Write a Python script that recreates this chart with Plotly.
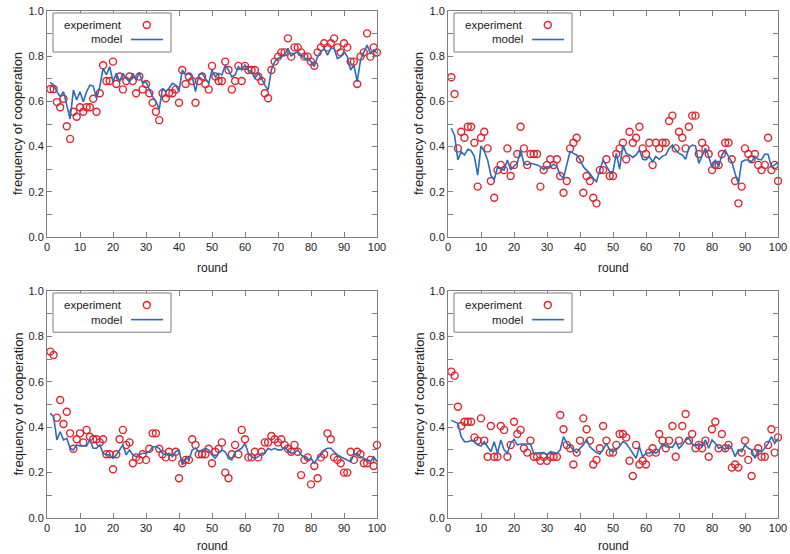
import plotly.graph_objects as go

rounds = list(range(1, 101))

tl_experiment = [0.655, 0.655, 0.597, 0.574, 0.612, 0.49, 0.434, 0.554, 0.532, 0.574,
                 0.554, 0.574, 0.574, 0.612, 0.554, 0.636, 0.76, 0.69, 0.69, 0.776,
                 0.677, 0.71, 0.653, 0.69, 0.71, 0.69, 0.636, 0.71, 0.653, 0.677,
                 0.636, 0.594, 0.554, 0.517, 0.636, 0.614, 0.636, 0.636, 0.653, 0.594,
                 0.739, 0.677, 0.71, 0.69, 0.594, 0.69, 0.71, 0.677, 0.653, 0.757,
                 0.71, 0.69, 0.69, 0.776, 0.739, 0.653, 0.69, 0.757, 0.69, 0.757,
                 0.739, 0.739, 0.739, 0.71, 0.69, 0.636, 0.614, 0.739, 0.776, 0.798,
                 0.817, 0.817, 0.879, 0.798, 0.839, 0.839, 0.817, 0.798, 0.798, 0.776,
                 0.758, 0.817, 0.839, 0.857, 0.839, 0.857, 0.879, 0.839, 0.817, 0.857,
                 0.839, 0.776, 0.776, 0.677, 0.798, 0.817, 0.901, 0.798, 0.839, 0.817]
tl_model = [0.684, 0.672, 0.643, 0.621, 0.643, 0.577, 0.522, 0.65, 0.606, 0.643,
            0.599, 0.643, 0.672, 0.668, 0.614, 0.665, 0.746, 0.717, 0.754, 0.687,
            0.724, 0.687, 0.724, 0.702, 0.687, 0.724, 0.695, 0.727, 0.68, 0.687,
            0.65, 0.621, 0.60, 0.565, 0.658, 0.643, 0.658, 0.68, 0.672, 0.643,
            0.739, 0.717, 0.724, 0.709, 0.643, 0.717, 0.724, 0.702, 0.68, 0.739,
            0.709, 0.724, 0.717, 0.761, 0.739, 0.709, 0.717, 0.754, 0.739, 0.761,
            0.739, 0.731, 0.702, 0.724, 0.702, 0.672, 0.65, 0.74, 0.776, 0.79,
            0.798, 0.805, 0.835, 0.801, 0.813, 0.82, 0.805, 0.79, 0.79, 0.776,
            0.754, 0.798, 0.82, 0.835, 0.805, 0.835, 0.835, 0.79, 0.798, 0.82,
            0.798, 0.739, 0.761, 0.687, 0.783, 0.813, 0.849, 0.813, 0.827, 0.813]

tr_experiment = [0.707, 0.633, 0.392, 0.466, 0.439, 0.488, 0.488, 0.417, 0.223, 0.439,
                 0.466, 0.392, 0.248, 0.174, 0.296, 0.319, 0.296, 0.392, 0.27, 0.319,
                 0.367, 0.488, 0.392, 0.319, 0.367, 0.367, 0.367, 0.223, 0.296, 0.319,
                 0.344, 0.319, 0.344, 0.27, 0.196, 0.248, 0.392, 0.417, 0.439, 0.344,
                 0.196, 0.27, 0.248, 0.174, 0.149, 0.296, 0.296, 0.344, 0.27, 0.27,
                 0.367, 0.392, 0.417, 0.344, 0.466, 0.417, 0.439, 0.488, 0.392, 0.367,
                 0.417, 0.319, 0.417, 0.392, 0.417, 0.417, 0.513, 0.537, 0.392, 0.466,
                 0.439, 0.392, 0.488, 0.537, 0.537, 0.367, 0.417, 0.392, 0.367, 0.296,
                 0.319, 0.319, 0.367, 0.417, 0.417, 0.344, 0.248, 0.149, 0.223, 0.392,
                 0.367, 0.344, 0.367, 0.319, 0.296, 0.319, 0.439, 0.296, 0.319, 0.248]
tr_model = [0.481, 0.449, 0.341, 0.378, 0.363, 0.388, 0.382, 0.356, 0.274, 0.403,
            0.378, 0.341, 0.274, 0.252, 0.308, 0.303, 0.296, 0.341, 0.296, 0.314,
            0.326, 0.385, 0.326, 0.319, 0.326, 0.323, 0.319, 0.311, 0.299, 0.311,
            0.308, 0.323, 0.311, 0.274, 0.26, 0.32, 0.378, 0.37, 0.363, 0.341,
            0.311, 0.296, 0.281, 0.26, 0.245, 0.296, 0.341, 0.314, 0.289, 0.289,
            0.37, 0.30, 0.407, 0.37, 0.363, 0.352, 0.363, 0.385, 0.344, 0.341,
            0.356, 0.333, 0.356, 0.344, 0.358, 0.363, 0.392, 0.407, 0.385, 0.37,
            0.363, 0.344, 0.395, 0.407, 0.403, 0.326, 0.363, 0.392, 0.356, 0.308,
            0.341, 0.311, 0.363, 0.385, 0.356, 0.333, 0.281, 0.237, 0.333, 0.341,
            0.341, 0.333, 0.356, 0.344, 0.341, 0.367, 0.365, 0.311, 0.319, 0.33]

bl_experiment = [0.733, 0.718, 0.442, 0.52, 0.414, 0.468, 0.373, 0.305, 0.347, 0.373,
                 0.333, 0.388, 0.358, 0.347, 0.347, 0.333, 0.347, 0.281, 0.281, 0.215,
                 0.281, 0.347, 0.388, 0.322, 0.333, 0.241, 0.267, 0.256, 0.281, 0.256,
                 0.305, 0.373, 0.373, 0.305, 0.281, 0.267, 0.292, 0.267, 0.292, 0.175,
                 0.241, 0.256, 0.256, 0.347, 0.322, 0.281, 0.281, 0.281, 0.305, 0.241,
                 0.292, 0.305, 0.333, 0.20, 0.175, 0.281, 0.322, 0.281, 0.388, 0.347,
                 0.267, 0.267, 0.292, 0.267, 0.292, 0.333, 0.333, 0.361, 0.347, 0.333,
                 0.347, 0.322, 0.305, 0.292, 0.322, 0.292, 0.189, 0.256, 0.267, 0.148,
                 0.229, 0.175, 0.267, 0.281, 0.373, 0.347, 0.267, 0.256, 0.241, 0.20,
                 0.20, 0.292, 0.256, 0.292, 0.281, 0.241, 0.241, 0.256, 0.229, 0.322]
bl_model = [0.461, 0.446, 0.344, 0.38, 0.344, 0.351, 0.307, 0.30, 0.322, 0.317,
            0.317, 0.317, 0.344, 0.307, 0.307, 0.322, 0.285, 0.278, 0.278, 0.263,
            0.278, 0.30, 0.322, 0.278, 0.30, 0.278, 0.27, 0.278, 0.285, 0.285,
            0.292, 0.314, 0.314, 0.307, 0.285, 0.278, 0.285, 0.27, 0.292, 0.30,
            0.233, 0.263, 0.256, 0.30, 0.307, 0.292, 0.30, 0.307, 0.30, 0.278,
            0.263, 0.285, 0.30, 0.292, 0.263, 0.256, 0.292, 0.30, 0.307, 0.329,
            0.285, 0.27, 0.263, 0.27, 0.285, 0.285, 0.307, 0.30, 0.307, 0.30,
            0.30, 0.311, 0.30, 0.285, 0.288, 0.30, 0.278, 0.27, 0.256, 0.263,
            0.241, 0.263, 0.278, 0.30, 0.307, 0.307, 0.292, 0.278, 0.27, 0.263,
            0.256, 0.248, 0.278, 0.285, 0.27, 0.263, 0.256, 0.248, 0.27, 0.248]

br_experiment = [0.645, 0.627, 0.49, 0.405, 0.424, 0.424, 0.424, 0.355, 0.341, 0.439,
                 0.341, 0.27, 0.405, 0.27, 0.27, 0.405, 0.388, 0.27, 0.322, 0.424,
                 0.37, 0.388, 0.307, 0.288, 0.341, 0.27, 0.27, 0.252, 0.27, 0.252,
                 0.27, 0.27, 0.27, 0.454, 0.391, 0.322, 0.307, 0.236, 0.288, 0.341,
                 0.439, 0.391, 0.341, 0.236, 0.256, 0.307, 0.405, 0.341, 0.288, 0.288,
                 0.322, 0.37, 0.37, 0.355, 0.252, 0.185, 0.322, 0.236, 0.252, 0.236,
                 0.288, 0.307, 0.288, 0.37, 0.341, 0.307, 0.341, 0.405, 0.27, 0.341,
                 0.405, 0.458, 0.341, 0.37, 0.307, 0.322, 0.307, 0.341, 0.27, 0.391,
                 0.424, 0.307, 0.37, 0.307, 0.322, 0.222, 0.236, 0.222, 0.288, 0.341,
                 0.256, 0.185, 0.288, 0.307, 0.27, 0.27, 0.322, 0.391, 0.288, 0.355]
br_model = [0.43, 0.424, 0.417, 0.358, 0.336, 0.336, 0.341, 0.336, 0.322, 0.317,
            0.336, 0.314, 0.292, 0.336, 0.285, 0.344, 0.30, 0.285, 0.329, 0.346,
            0.322, 0.326, 0.326, 0.329, 0.326, 0.285, 0.285, 0.285, 0.288, 0.278,
            0.292, 0.288, 0.285, 0.30, 0.358, 0.329, 0.317, 0.30, 0.288, 0.307,
            0.322, 0.346, 0.314, 0.30, 0.288, 0.282, 0.30, 0.329, 0.30, 0.292,
            0.30, 0.317, 0.336, 0.329, 0.307, 0.285, 0.263, 0.314, 0.27, 0.285,
            0.285, 0.292, 0.285, 0.30, 0.326, 0.314, 0.314, 0.311, 0.336, 0.307,
            0.322, 0.344, 0.351, 0.326, 0.317, 0.329, 0.314, 0.344, 0.307, 0.344,
            0.329, 0.307, 0.314, 0.30, 0.322, 0.307, 0.27, 0.30, 0.292, 0.322,
            0.307, 0.30, 0.263, 0.30, 0.292, 0.307, 0.329, 0.358, 0.329, 0.35]

x_ticks = list(range(0, 101, 10))
y_ticks = [0.0, 0.1, 0.2, 0.3, 0.4, 0.5, 0.6, 0.7, 0.8, 0.9, 1.0]
y_ticktext = ["0.0", "", "0.2", "", "0.4", "", "0.6", "", "0.8", "", "1.0"]
x_title = "round"
y_title = "frequency of cooperation"
legend_labels = ["experiment", "model"]

W, H = 790, 554
RED = "#e3232c"
BLUE = "#2b6cb8"
AXC = "#7f7f7f"
FONT = "Liberation Sans, Arial, Helvetica, sans-serif"

# plot areas in pixels (left, right, top, bottom)
boxes = [(47, 377, 11, 237), (448, 778, 11, 237), (47, 377, 291, 518), (448, 778, 291, 518)]
title_gap = [31, 31, 28, 28]
panels = [(tl_experiment, tl_model), (tr_experiment, tr_model),
          (bl_experiment, bl_model), (br_experiment, br_model)]

fig = go.Figure()
layout = dict(width=W, height=H, margin=dict(l=0, r=0, t=0, b=0),
              paper_bgcolor="white", plot_bgcolor="white", showlegend=False,
              font=dict(family=FONT, size=11, color="#222"))
shapes = []
annotations = []


def fx(px):
    return (px - 47) / 330.0


def fy(py):
    return (237 - py) / 226.0


for i, ((exp, mod), (l, r, t, b)) in enumerate(zip(panels, boxes)):
    sfx = "" if i == 0 else str(i + 1)
    xa, ya = "x" + sfx, "y" + sfx
    fig.add_trace(go.Scatter(x=rounds, y=exp, mode="markers", xaxis=xa, yaxis=ya,
                             marker=dict(symbol="circle-open", size=7, color=RED,
                                         line=dict(width=1.4, color=RED)),
                             name=legend_labels[0], cliponaxis=False, hoverinfo="skip"))
    fig.add_trace(go.Scatter(x=rounds, y=mod, mode="lines", xaxis=xa, yaxis=ya,
                             line=dict(color=BLUE, width=1.6), name=legend_labels[1],
                             hoverinfo="skip"))
    common = dict(showline=True, linecolor=AXC, linewidth=1, mirror="ticks",
                  ticks="inside", ticklen=5, tickcolor=AXC, showgrid=False,
                  zeroline=False, automargin=False, ticklabeloverflow="allow",
                  tickfont=dict(family=FONT, size=11, color="#222"))
    layout["xaxis" + sfx] = dict(domain=[l / W, r / W], range=[0, 100],
                                 tickvals=x_ticks, anchor=ya, **common)
    layout["yaxis" + sfx] = dict(domain=[1 - b / H, 1 - t / H], range=[0, 1],
                                 tickvals=y_ticks, ticktext=y_ticktext, anchor=xa,
                                 **common)
    # axis titles
    annotations.append(dict(text=x_title, xref="paper", yref="paper",
                            x=(l + r) / 2 / W, y=1 - (b + title_gap[i]) / H,
                            xanchor="center", yanchor="middle",
                            showarrow=False, font=dict(size=12, family=FONT, color="#222")))
    annotations.append(dict(text=y_title, xref="paper", yref="paper",
                            x=(l - 29) / W, y=1 - (t + b) / 2 / H, textangle=-90,
                            xanchor="center", yanchor="middle",
                            showarrow=False, font=dict(size=13, family=FONT, color="#222")))
    # legend box (gnuplot style: label then sample)
    xd, yd = xa + " domain", ya + " domain"
    shapes.append(dict(type="rect", xref=xd, yref=yd, x0=fx(53), x1=fx(171),
                       y0=fy(52), y1=fy(13), line=dict(color=AXC, width=1),
                       fillcolor="white", layer="above"))
    annotations.append(dict(text=legend_labels[0], xref=xd, yref=yd, x=fx(124), y=fy(25),
                            xanchor="right", yanchor="middle", showarrow=False,
                            font=dict(size=11.5, family=FONT, color="#222")))
    annotations.append(dict(text=legend_labels[1], xref=xd, yref=yd, x=fx(124), y=fy(39.5),
                            xanchor="right", yanchor="middle", showarrow=False,
                            font=dict(size=11.5, family=FONT, color="#222")))
    shapes.append(dict(type="circle", xref=xd, yref=yd, x0=fx(143.3), x1=fx(150.3),
                       y0=fy(28.5), y1=fy(21.5), line=dict(color=RED, width=1.4),
                       layer="above"))
    shapes.append(dict(type="line", xref=xd, yref=yd, x0=fx(131), x1=fx(163),
                       y0=fy(39.5), y1=fy(39.5), line=dict(color=BLUE, width=1.6),
                       layer="above"))

layout["shapes"] = shapes
layout["annotations"] = annotations
layout["hovermode"] = False
fig.update_layout(**layout)
fig.write_html("out.html", config={"displayModeBar": False},
               post_script="document.body.style.margin='0';document.body.style.overflow='hidden';")
